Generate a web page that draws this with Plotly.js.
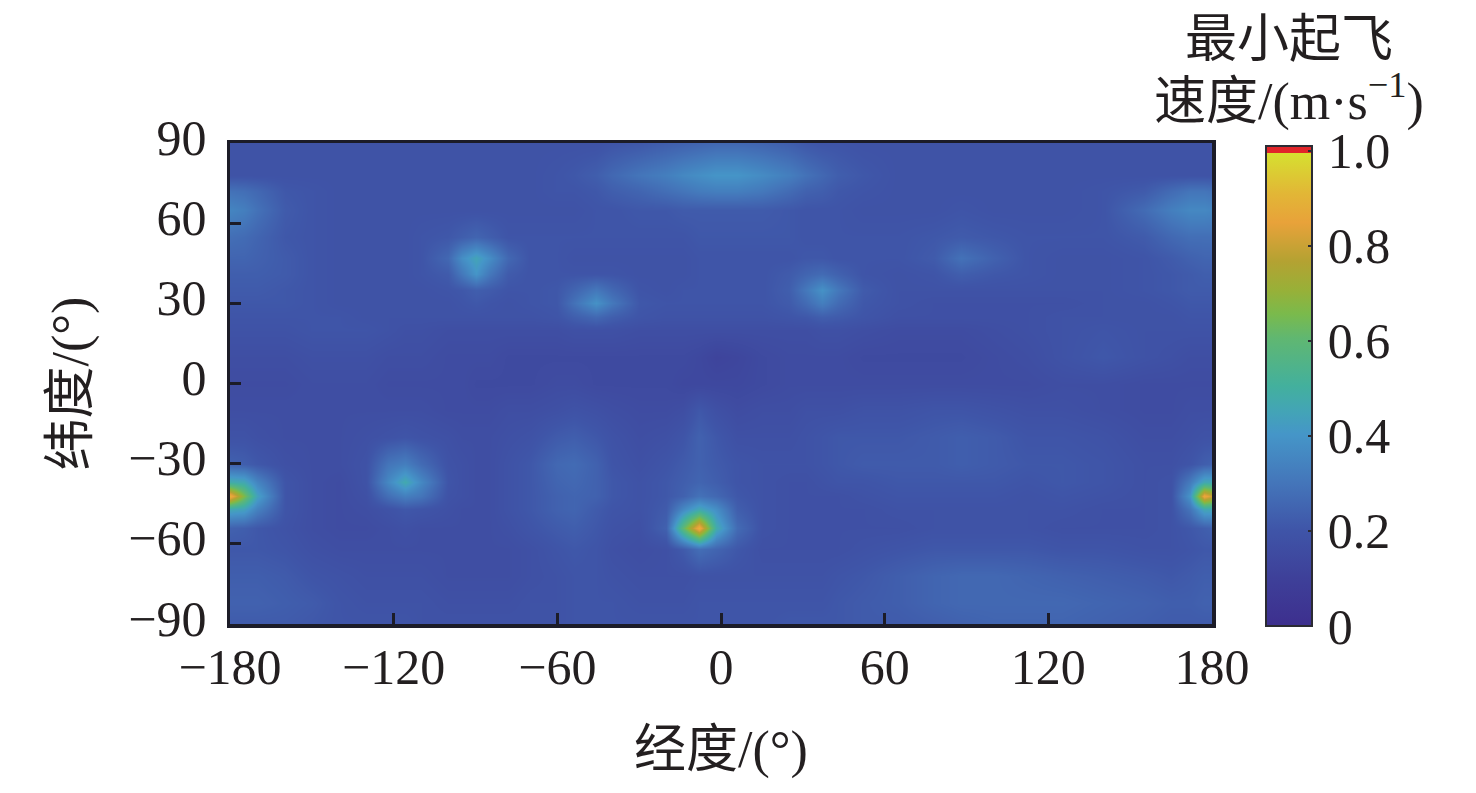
<!DOCTYPE html>
<html>
<head>
<meta charset="utf-8">
<script src="https://cdn.plot.ly/plotly-3.0.1.min.js"></script>
<style>html,body{margin:0;padding:0;background:#fff}</style>
</head>
<body>
<div id="chart" style="width:1476px;height:793px"></div>
<script>
const longitudes = [-180,-175,-170,-160,-150,-140,-130,-122,-116,-110,-100,-95,-90,-85,-78,-70,-60,-54,-46,-40,-30,-20,-14,-8,-2,6,15,25,31,37,43,52,65,78,88,100,112,125,140,155,165,172,177,180];
const latitudes = [-90,-82,-72,-62,-54,-47,-42,-37,-30,-20,-10,0,10,20,25,30,35,41,47,55,65,72,78,90];
// minimum take-off speed, hundredths of m/s, one row per latitude
const speedRows = [
[22,22,22,22,21,20,20,20,20,19,19,19,19,19,19,19,19,20,20,20,20,20,20,20,20,20,20,21,21,21,21,22,22,23,24,25,25,25,24,23,22,22,22,22],
[24,24,24,23,22,20,19,19,19,19,18,18,18,18,18,19,19,20,20,20,19,19,19,20,20,20,20,20,20,20,21,22,23,25,26,26,26,26,25,24,23,23,24,24],
[23,23,23,22,20,19,18,18,18,18,17,17,17,17,17,18,19,20,20,19,18,18,18,19,19,19,19,19,19,19,20,21,23,25,26,26,25,24,23,22,21,22,23,23],
[21,21,21,20,18,17,17,17,17,17,17,17,17,17,17,18,20,21,20,18,17,18,22,28,25,21,18,18,18,18,18,19,20,21,21,21,21,20,20,19,19,20,21,21],
[24,23,21,19,17,16,16,17,18,17,17,17,17,17,18,20,22,23,21,19,18,24,60,90,48,27,19,18,18,18,18,18,18,19,19,19,19,18,18,18,19,21,23,24],
[46,44,34,20,17,16,17,19,21,20,18,17,17,17,19,21,24,25,22,20,19,22,36,46,38,23,19,18,18,18,18,18,19,19,19,19,19,19,18,18,19,30,46,46],
[90,66,44,20,17,16,18,28,33,30,19,18,17,17,19,21,24,25,24,21,19,21,24,29,26,21,19,18,18,18,18,19,20,20,20,20,19,20,19,18,19,40,88,80],
[48,46,35,20,17,16,19,36,47,36,20,18,17,17,19,21,25,26,24,21,19,21,23,25,23,20,19,18,18,19,20,20,21,21,21,21,20,21,20,18,19,32,46,46],
[24,23,21,18,17,17,19,30,33,27,19,18,17,17,19,21,26,27,24,20,18,20,22,24,22,20,19,19,19,20,21,22,22,22,23,22,21,21,20,18,18,20,23,24],
[19,19,18,17,17,17,18,19,20,19,18,17,17,17,18,19,22,23,21,19,17,18,20,24,21,18,18,18,19,20,21,21,21,22,23,22,20,20,19,17,17,18,19,19],
[17,17,17,17,17,17,17,17,17,17,16,16,16,16,17,17,18,19,18,17,16,16,17,21,18,16,17,17,18,18,18,19,19,20,20,19,18,18,17,16,16,17,17,17],
[16,16,16,16,17,17,17,16,16,16,16,16,15,15,15,15,16,16,15,15,15,15,14,14,14,14,15,16,16,16,16,16,16,16,16,16,16,17,17,16,16,16,16,16],
[17,17,17,17,18,18,18,17,17,17,16,16,16,16,15,15,15,15,15,15,15,15,15,14,12,13,15,16,16,16,16,15,15,15,15,16,17,19,21,19,18,17,17,17],
[19,19,19,19,20,20,20,19,18,18,17,17,17,17,17,17,17,18,18,18,17,17,17,17,17,17,17,17,17,18,18,17,16,16,16,17,18,19,20,19,19,19,19,19],
[20,20,20,20,20,20,19,19,19,19,19,19,19,19,19,19,20,23,26,23,20,19,19,19,19,19,19,20,21,23,22,20,18,18,18,18,18,19,19,19,19,20,20,20],
[21,21,21,21,20,19,19,19,19,19,19,20,21,20,19,20,21,29,39,31,21,20,20,20,20,20,20,22,27,33,27,21,19,18,18,18,18,18,19,19,20,21,21,21],
[22,22,22,21,20,19,19,19,19,19,20,21,23,22,20,20,21,25,31,26,20,19,20,20,20,20,20,23,31,39,31,22,19,19,19,19,19,19,19,20,21,22,22,22],
[23,23,23,22,20,19,19,19,19,20,22,31,40,31,22,20,20,20,20,20,19,19,19,20,20,20,20,22,25,27,24,20,19,20,23,21,20,19,19,20,21,22,23,23],
[25,25,24,22,20,19,19,19,19,20,26,38,45,38,26,20,20,19,19,19,19,19,19,20,20,20,20,20,21,21,20,20,20,22,29,24,20,19,19,20,22,24,25,25],
[28,27,25,21,20,19,19,19,19,20,21,23,25,23,20,20,20,20,20,20,20,20,20,21,21,21,21,21,20,20,20,20,20,21,22,21,20,20,20,22,26,28,28,28],
[35,33,29,22,20,19,19,19,19,19,19,19,19,19,19,19,19,19,20,20,21,21,22,22,22,22,22,21,20,20,20,19,19,19,20,19,19,19,20,27,33,36,36,35],
[29,28,26,21,20,19,19,19,19,19,19,19,19,19,19,19,20,20,21,23,25,28,30,32,33,33,31,27,24,23,21,20,19,19,19,19,19,19,20,22,27,30,30,29],
[19,19,19,19,19,19,19,19,19,19,19,19,19,19,19,19,20,21,23,26,30,33,36,38,40,40,37,33,29,26,23,21,19,19,19,19,19,19,19,19,19,19,19,19],
[19,19,19,19,19,19,19,19,19,19,19,19,19,19,19,19,19,19,19,20,21,23,24,25,26,26,25,23,21,20,20,19,19,19,19,19,19,19,19,19,19,19,19,19]
];
const xTicks = [-180,-120,-60,0,60,120,180];
const yTicks = [-90,-60,-30,0,30,60,90];
const barTicks = [0,0.2,0.4,0.6,0.8,1.0];
const barTickText = ['0','0.2','0.4','0.6','0.8','1.0'].map(s=>'\u200a'+s);

const zTop = 1.01;
const palette = [
 [0,'#3d2f8e'],[0.1,'#3e4099'],[0.2,'#3f55a8'],[0.3,'#4476ba'],[0.4,'#4596c8'],
 [0.45,'#43a5b5'],[0.5,'#43b09d'],[0.6,'#60b771'],[0.65,'#7aba4c'],[0.7,'#98b038'],
 [0.76,'#b4a232'],[0.84,'#e8a23a'],[0.9,'#e2b636'],[0.985,'#d6e030'],
 [0.985,'#e1252a'],[1,'#e1252a']
];
const FONT = '"Liberation Serif","Noto Sans CJK SC",serif';
const INK = '#231f20';
const LINE = '#1c1c28';

const L=230, R=1212, T=143, B=624;
const px = x => (x-L)/(R-L);
const py = y => (B-y)/(B-T);

const axisBase = {
  ticks:'inside', ticklen:11, tickwidth:3, tickcolor:LINE,
  showline:true, mirror:true, linewidth:3.5, linecolor:LINE,
  showgrid:false, zeroline:false, tickmode:'array',
  tickfont:{family:FONT,size:50,color:INK}
};

Plotly.newPlot('chart',[{
  type:'heatmap',
  x:longitudes, y:latitudes,
  z:speedRows.map(r=>r.map(v=>v/100)),
  zmin:0, zmax:zTop, zsmooth:'best',
  colorscale:palette,
  hoverinfo:'x+y+z',
  colorbar:{
    lenmode:'pixels', len:480, thickness:46, thicknessmode:'pixels',
    x:px(1266), xanchor:'left', xpad:0, y:py(626), yanchor:'bottom', ypad:0,
    outlinecolor:'#2b2b33', outlinewidth:2,
    ticks:'inside', ticklen:5, tickwidth:1.5, tickcolor:'#2b2b33',
    tickmode:'array', tickvals:barTicks, ticktext:barTickText,
    tickfont:{family:FONT,size:50,color:INK}
  }
}],{
  width:1476, height:793, autosize:false,
  margin:{l:L,r:1476-R,t:T,b:793-B,pad:0},
  paper_bgcolor:'#fff', plot_bgcolor:'#fff',
  font:{family:FONT,color:INK},
  xaxis:Object.assign({},axisBase,{range:[-180,180],tickvals:xTicks,ticklabelstandoff:-4,
    title:{text:'经度/(°)',font:{family:FONT,size:52,color:INK},standoff:38}}),
  yaxis:Object.assign({},axisBase,{range:[-90,90],tickvals:yTicks,ticklabelstandoff:10,ticklabelshift:-6,
    title:{text:'纬度/(°)',font:{family:FONT,size:52,color:INK},standoff:24}}),
  annotations:[
    {text:'最小起飞',xref:'paper',yref:'paper',x:px(1289),y:py(40),
     xanchor:'center',yanchor:'middle',showarrow:false,font:{family:FONT,size:52,color:INK}},
    {text:'速度/(m·s<sup>−1</sup>)',xref:'paper',yref:'paper',x:px(1289),y:py(98),
     xanchor:'center',yanchor:'middle',showarrow:false,font:{family:FONT,size:52,color:INK}}
  ]
},{displayModeBar:false,staticPlot:true});
</script>
</body>
</html>
